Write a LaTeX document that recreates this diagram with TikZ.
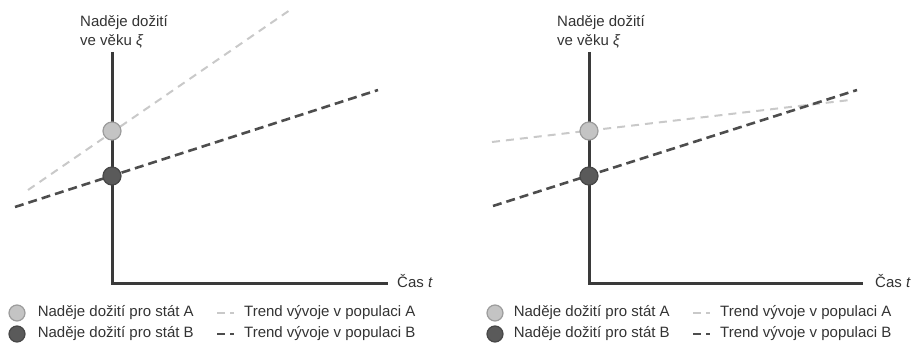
\documentclass[tikz,border=0pt]{standalone}
\usepackage{fontspec}
\setmainfont{Liberation Sans}
\usetikzlibrary{positioning}
\definecolor{axisgray}{HTML}{3A3A3A}
\definecolor{textgray}{HTML}{333333}
\definecolor{lightfill}{HTML}{C4C4C4}
\definecolor{lightedge}{HTML}{9C9C9C}
\definecolor{darkfill}{HTML}{5A5A5A}
\definecolor{darkedge}{HTML}{474747}
\definecolor{lightline}{HTML}{C9C9C9}
\definecolor{darkline}{HTML}{4D4D4D}
\tikzset{
	axis line/.style = {line width=3pt, draw=axisgray, line join=miter},
	trend A/.style = {draw=lightline, line width=2pt, dash pattern=on 8pt off 6pt},
	trend B/.style = {draw=darkline, line width=2.6pt, dash pattern=on 9pt off 5pt},
	state A/.style = {circle, draw=lightedge, fill=lightfill, line width=1.2pt, minimum size=18pt, inner sep=0pt},
	state B/.style = {circle, draw=darkedge, fill=darkfill, line width=1.2pt, minimum size=18pt, inner sep=0pt},
	legend text/.style = {inner sep=0pt, text height=11pt, text depth=3pt, text=textgray},
	axis label/.style = {inner sep=0pt, text=textgray, align=left, anchor=north west},
	legend dash A/.style = {draw=lightline, line width=2pt, dash pattern=on 8pt off 5pt on 4pt off 20pt},
	legend dash B/.style = {draw=darkline, line width=2.6pt, dash pattern=on 8pt off 5pt on 4pt off 20pt}
}
\begin{document}
\begin{tikzpicture}[x=1pt, y=-1pt, font=\fontsize{15pt}{19pt}\selectfont]
	\useasboundingbox (0,0) rectangle (911,344);
	% left panel: A grows faster than B
	\coordinate (a1) at (28,190);
	\coordinate (a2) at (290,10);
	\coordinate (b1) at (15,207);
	\coordinate (b2) at (378,90);
	\coordinate (ytop) at (112,52);
	\coordinate (xend) at (388,284);
	\draw[trend A] (a1) -- (a2);
	\draw[trend B] (b1) -- (b2);
	\draw[axis line] (ytop) |- (xend);
	\node[state A] (pA) at (112,131) {};
	\node[state B] (pB) at (112,176) {};
	\node[axis label] (ylab) at (80,15.5) {Naděje dožití\\ve věku \textit{ξ}};
	\node[legend text, right=9pt of xend] (tlab) {Čas \textit{t}};
	\node[state A, minimum size=16pt] (legA) at (17,313) {};
	\node[state B, minimum size=16pt] (legB) at (17,334) {};
	\node[legend text, right=12pt of legA] (txA) {Naděje dožití pro stát A};
	\node[legend text, right=12pt of legB] (txB) {Naděje dožití pro stát B};
	\coordinate (dA1) at (217,313);
	\coordinate (dA2) at (239,313);
	\coordinate (dB1) at (217,334);
	\coordinate (dB2) at (239,334);
	\draw[legend dash A] (dA1) -- (dA2);
	\draw[legend dash B] (dB1) -- (dB2);
	\node[legend text, right=5pt of dA2] (trA) {Trend vývoje v populaci A};
	\node[legend text, right=5pt of dB2] (trB) {Trend vývoje v populaci B};
	% right panel: B catches up with A
	\begin{scope}[xshift=477pt]
		\coordinate (ra1) at (15,142);
		\coordinate (ra2) at (373,100);
		\coordinate (rb1) at (16,206);
		\coordinate (rb2) at (380,90);
		\coordinate (rytop) at (112,52);
		\coordinate (rxend) at (386,284);
		\draw[trend A] (ra1) -- (ra2);
		\draw[trend B] (rb1) -- (rb2);
		\draw[axis line] (rytop) |- (rxend);
		\node[state A] (rpA) at (112,131) {};
		\node[state B] (rpB) at (112,176) {};
		\node[axis label] (rylab) at (80,15.5) {Naděje dožití\\ve věku \textit{ξ}};
		\node[legend text, right=12pt of rxend] (rtlab) {Čas \textit{t}};
		\node[state A, minimum size=16pt] (rlegA) at (18,313) {};
		\node[state B, minimum size=16pt] (rlegB) at (18,334) {};
		\node[legend text, right=10pt of rlegA] (rtxA) {Naděje dožití pro stát A};
		\node[legend text, right=10pt of rlegB] (rtxB) {Naděje dožití pro stát B};
		\coordinate (rdA1) at (216,313);
		\coordinate (rdA2) at (238,313);
		\coordinate (rdB1) at (216,334);
		\coordinate (rdB2) at (238,334);
		\draw[legend dash A] (rdA1) -- (rdA2);
		\draw[legend dash B] (rdB1) -- (rdB2);
		\node[legend text, right=5pt of rdA2] (rtrA) {Trend vývoje v populaci A};
		\node[legend text, right=5pt of rdB2] (rtrB) {Trend vývoje v populaci B};
	\end{scope}
\end{tikzpicture}
\end{document}
